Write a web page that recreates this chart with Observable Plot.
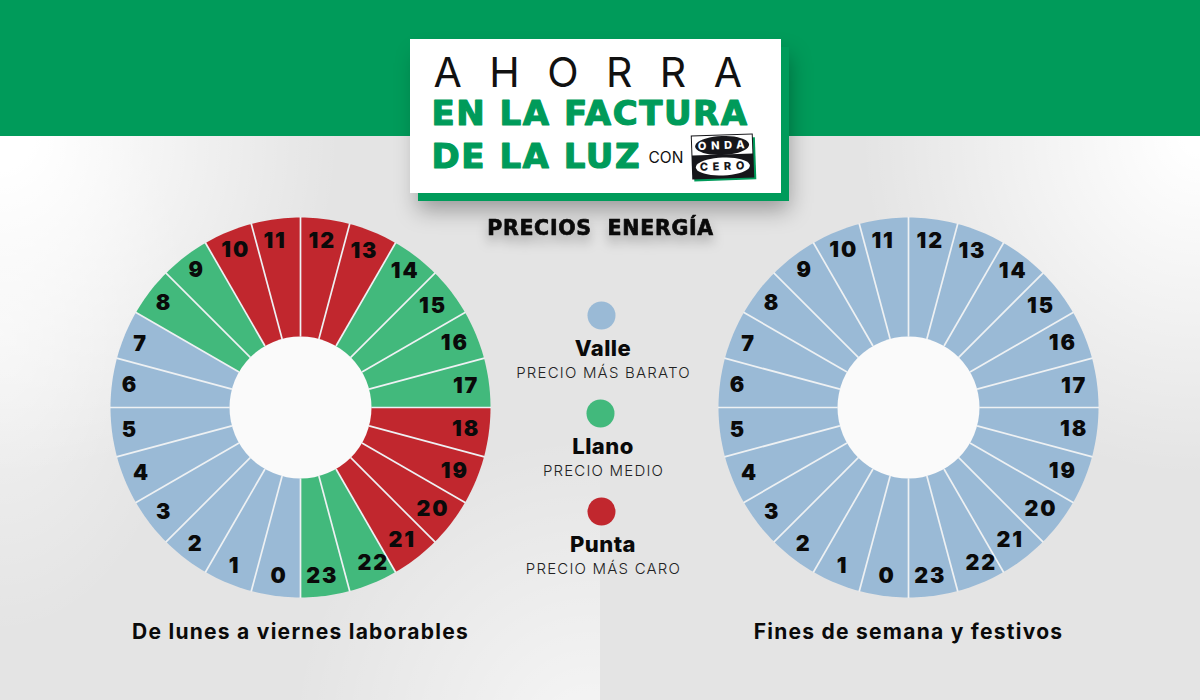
<!DOCTYPE html>
<html lang="es">
<head>
<meta charset="utf-8">
<script src="https://cdn.jsdelivr.net/npm/d3@7"></script>
<script src="https://cdn.jsdelivr.net/npm/@observablehq/plot@0.6"></script>
<style>
html,body{margin:0;padding:0;background:#e4e4e4}
#stage{position:relative;width:1200px;height:700px;overflow:hidden;background:#e4e4e4}
#left,#right{position:absolute;top:136px;height:564px;width:600px}
#left{left:0;background:
 radial-gradient(circle 340px at 0px 0px,#ffffff 10%,rgba(255,255,255,0) 100%),
 radial-gradient(circle 300px at 590px 600px,rgba(255,255,255,.65) 0%,rgba(255,255,255,0) 100%),
 radial-gradient(ellipse 190px 300px at 0px 200px,rgba(255,255,255,.55) 0%,rgba(255,255,255,0) 100%),
 #e4e4e4}
#right{left:600px;background:
 radial-gradient(circle 340px at 600px 0px,#ffffff 5%,rgba(255,255,255,0) 100%),
 #e4e4e4}
#chart{position:absolute;left:0;top:0}
#chart svg{display:block;background:transparent}
.ahorra{letter-spacing:.67em}
.head{letter-spacing:.045em}
.sub{letter-spacing:.035em}
.caption{letter-spacing:.06em}
.hourlabel{letter-spacing:.09em}
.note{letter-spacing:.08em}
.name{letter-spacing:.02em}
.logo{letter-spacing:.42em}
</style>
</head>
<body>
<div id="stage"><div id="left"></div><div id="right"></div><div id="chart"></div></div>
<script>
const hours = d3.range(24);
const periodsWorkday = ["Valle","Valle","Valle","Valle","Valle","Valle","Valle","Valle",
  "Llano","Llano","Punta","Punta","Punta","Punta","Llano","Llano","Llano","Llano",
  "Punta","Punta","Punta","Punta","Llano","Llano"];
const periodsHoliday = ["Valle","Valle","Valle","Valle","Valle","Valle","Valle","Valle",
  "Valle","Valle","Valle","Valle","Valle","Valle","Valle","Valle","Valle","Valle",
  "Valle","Valle","Valle","Valle","Valle","Valle"];
const legendNames = ["Valle","Llano","Punta"];
const legendNotes = ["PRECIO MÁS BARATO","PRECIO MEDIO","PRECIO MÁS CARO"];
const legendColors = ["#9abad6","#42b97c","#c1272e"];
const captions = ["De lunes a viernes laborables","Fines de semana y festivos"];
const centers = [300, 908];

const cy = 407, rOuter = 190, rInner = 71;
const F = "Inter, 'Liberation Sans', sans-serif";
const H = "'DejaVu Sans', Inter, sans-serif";
const angle = h => (h - 12) * Math.PI / 12;
const polar = (cx, r, a) => ({x: cx + r * Math.sin(a), y: cy - r * Math.cos(a)});
const labelRadius = h => (h < 12 || h === 14 || h === 22) ? 172 : 167;
const nudge = {0: [1, -2], 7: [-1, 2], 9: [1, -1], 10: [1, 2], 11: [-3, 4], 12: [0, -1], 13: [0, -2], 22: [7, -3], 23: [0, 3]};

function wedges(cx, periods, id) {
  const pts = [];
  hours.forEach(h => {
    const a0 = angle(h), a1 = angle(h + 1), n = 12;
    for (let i = 0; i <= n; i++) pts.push({...polar(cx, rOuter, a0 + (a1 - a0) * i / n), id: id + h, period: periods[h]});
    pts.push({...polar(cx, rInner - 2, a1), id: id + h, period: periods[h]});
    pts.push({...polar(cx, rInner - 2, a0), id: id + h, period: periods[h]});
  });
  return pts;
}
const spokes = centers.flatMap(cx => hours.map(h => {
  const p = polar(cx, rInner, angle(h)), q = polar(cx, rOuter + .5, angle(h));
  return {x1: p.x, y1: p.y, x2: q.x, y2: q.y};
}));
const labels = centers.flatMap(cx => hours.map(h => {
  const p = polar(cx, labelRadius(h), angle(h + .5)), [dx, dy] = nudge[h] || [0, 0];
  return {x: p.x + dx, y: p.y + dy, t: String(h)};
}));
const holes = centers.map(x => ({x, y: cy}));
const legend = legendNames.map((name, i) => ({name, note: legendNotes[i], i}));
const legendDotX = [601, 600, 601], legendDotY = [315, 413, 511];

// Onda Cero logo, drawn as small shapes
const tilt = -2 * Math.PI / 180, lx = 722, ly = 156;
const rot = (x, y) => ({x: lx + x * Math.cos(tilt) - y * Math.sin(tilt), y: ly + x * Math.sin(tilt) + y * Math.cos(tilt)});
const quad = (x0, y0, x1, y1, id, f) => [[x0,y0],[x1,y0],[x1,y1],[x0,y1]].map(([a,b]) => ({...rot(a,b), id, f}));
const oval = (x, y, rx, ry, id, f) => d3.range(41).map(i => ({...rot(x + rx * Math.cos(i * Math.PI / 20), y + ry * Math.sin(i * Math.PI / 20)), id, f}));
const logoShapes = [
  ...quad(-29, -18, 33, 24, "g", "#009b5a"),
  ...quad(-31, -22, 31, 22, "k", "#16161a"),
  ...quad(-30, -21, 30, -2, "w", "#ffffff"),
  ...oval(0, -11, 27, 9.5, "o1", "#16161a"),
  ...oval(0, 10, 27, 9, "o2", "#ffffff")
];

const plot = Plot.plot({
  width: 1200, height: 700,
  marginTop: 0, marginRight: 0, marginBottom: 0, marginLeft: 0,
  x: {domain: [0, 1200], range: [0, 1200], axis: null},
  y: {domain: [0, 700], range: [0, 700], axis: null},
  color: {domain: legendNames, range: legendColors},
  marks: [
    Plot.rect([{}], {x1: 0, x2: 1200, y1: 0, y2: 136, fill: "#009b5a"}),
    Plot.line(wedges(centers[0], periodsWorkday, "a"), {x: "x", y: "y", z: "id", fill: "period", stroke: "none"}),
    Plot.line(wedges(centers[1], periodsHoliday, "b"), {x: "x", y: "y", z: "id", fill: "period", stroke: "none"}),
    Plot.link(spokes, {x1: "x1", y1: "y1", x2: "x2", y2: "y2", stroke: "#eef1f3", strokeWidth: 1.7}),
    Plot.dot(holes, {x: "x", y: "y", r: rInner, fill: "#fafafa", stroke: "none"}),
    Plot.text(labels, {x: "x", y: "y", text: "t", fill: "#0a0a0a", fontFamily: F, fontWeight: 900, fontSize: 21.5, className: "hourlabel"}),
    // header card
    Plot.rect([{}], {x1: 418, x2: 789, y1: 47, y2: 201, fill: "#009b5a", imageFilter: "drop-shadow(0 9px 11px rgba(0,0,0,.33))"}),
    Plot.rect([{}], {x1: 410, x2: 781, y1: 39, y2: 193, fill: "#ffffff"}),
    Plot.text(["AHORRA"], {x: () => 433, y: () => 86, text: d => d, textAnchor: "start", lineAnchor: "bottom", fontFamily: F, fontWeight: 400, fontSize: 41, fill: "#111", className: "ahorra"}),
    Plot.text(["EN LA FACTURA"], {x: () => 431, y: () => 124, text: d => d, textAnchor: "start", lineAnchor: "bottom", fontFamily: H, fontWeight: 700, fontSize: 34, fill: "#009b5a", stroke: "#009b5a", strokeWidth: 1.2, className: "head"}),
    Plot.text(["DE LA LUZ"], {x: () => 431, y: () => 167, text: d => d, textAnchor: "start", lineAnchor: "bottom", fontFamily: H, fontWeight: 700, fontSize: 34, fill: "#009b5a", stroke: "#009b5a", strokeWidth: 1.2, className: "head"}),
    Plot.text(["CON"], {x: () => 648, y: () => 162, text: d => d, textAnchor: "start", lineAnchor: "bottom", fontFamily: F, fontWeight: 400, fontSize: 15.5, fill: "#111"}),
    Plot.line(logoShapes, {x: "x", y: "y", z: "id", fill: "f", stroke: "none"}),
    Plot.text([{...rot(1.5, -11), t: "ONDA", c: "#fff"}, {...rot(1.5, 10), t: "CERO", c: "#16161a"}], {x: "x", y: "y", text: "t", fill: "c", rotate: -2, fontFamily: F, fontWeight: 800, fontSize: 11, className: "logo"}),
    Plot.text(["PRECIOS  ENERGÍA"], {x: () => 600, y: () => 228, text: d => d, fontFamily: H, fontWeight: 700, fontSize: 20.5, fill: "#0a0a0a", stroke: "#0a0a0a", strokeWidth: .7, className: "sub", imageFilter: "drop-shadow(0 7px 6px rgba(0,0,0,.28))"}),
    // legend
    Plot.dot(legend, {x: d => legendDotX[d.i], y: d => legendDotY[d.i], r: 14, fill: "name", stroke: "none"}),
    Plot.text(legend, {x: () => 602.5, y: d => legendDotY[d.i] + 33.5, text: "name", fontFamily: F, fontWeight: 800, fontSize: 22, fill: "#0a0a0a", className: "name"}),
    Plot.text(legend, {x: () => 603, y: d => legendDotY[d.i] + 57.5, text: "note", fontFamily: F, fontWeight: 300, fontSize: 15, fill: "#222", className: "note"}),
    // captions
    Plot.text(captions.map((t, i) => ({t, x: centers[i]})), {x: "x", y: () => 632, text: "t", fontFamily: F, fontWeight: 700, fontSize: 21, fill: "#0a0a0a", className: "caption"})
  ]
});
document.getElementById("chart").append(plot);
</script>
</body>
</html>
